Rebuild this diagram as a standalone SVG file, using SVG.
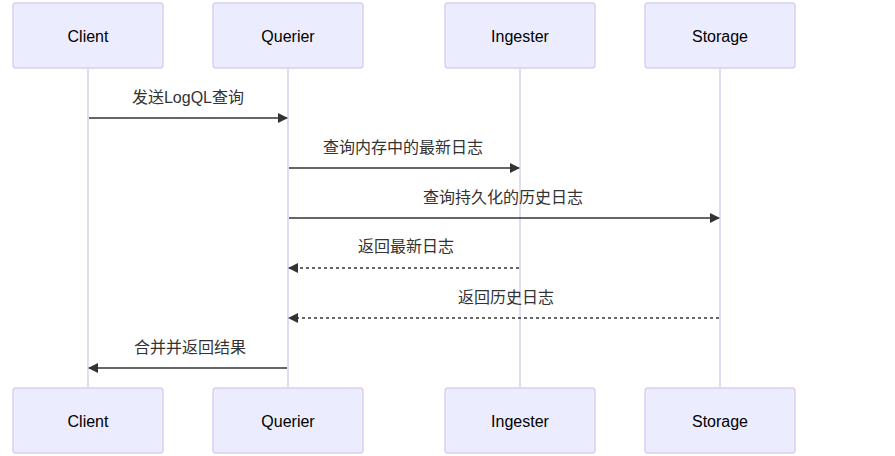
<svg xmlns="http://www.w3.org/2000/svg" width="895" height="456" viewBox="0 0 895 456">
<style>
.actor{fill:#ECECFF;stroke:#DACEF3;stroke-width:1.5}
.atext{font-family:"Liberation Sans","Noto Sans CJK SC",sans-serif;font-size:16px;fill:#000;text-anchor:middle;dominant-baseline:central}
.life{stroke:#DACEF3;stroke-width:1.5}
.msg{stroke:#333;stroke-width:1.5;fill:none}
.dash{stroke-dasharray:3,3}
.mtext{font-family:"Liberation Sans","Noto Sans CJK SC",sans-serif;font-size:16px;fill:#333;text-anchor:middle;dominant-baseline:central}
</style>
<defs>
<marker id="arrow" viewBox="0 0 10 10" refX="9" refY="5" markerWidth="10" markerHeight="10" markerUnits="userSpaceOnUse" orient="auto">
<path d="M0,0 L10,5 L0,10 z" fill="#333"/>
</marker>
</defs>
<g id="lifelines">
<line class="life" x1="88" y1="68" x2="88" y2="388"/>
<line class="life" x1="288" y1="68" x2="288" y2="388"/>
<line class="life" x1="520" y1="68" x2="520" y2="388"/>
<line class="life" x1="720" y1="68" x2="720" y2="388"/>
</g>
<g id="client-top"><rect class="actor" x="13" y="3" width="150" height="65" rx="3"/><text class="atext" x="88" y="36">Client</text></g>
<g id="querier-top"><rect class="actor" x="213" y="3" width="150" height="65" rx="3"/><text class="atext" x="288" y="36">Querier</text></g>
<g id="ingester-top"><rect class="actor" x="445" y="3" width="150" height="65" rx="3"/><text class="atext" x="520" y="36">Ingester</text></g>
<g id="storage-top"><rect class="actor" x="645" y="3" width="150" height="65" rx="3"/><text class="atext" x="720" y="36">Storage</text></g>
<g id="client-bottom"><rect class="actor" x="13" y="388" width="150" height="65" rx="3"/><text class="atext" x="88" y="421">Client</text></g>
<g id="querier-bottom"><rect class="actor" x="213" y="388" width="150" height="65" rx="3"/><text class="atext" x="288" y="421">Querier</text></g>
<g id="ingester-bottom"><rect class="actor" x="445" y="388" width="150" height="65" rx="3"/><text class="atext" x="520" y="421">Ingester</text></g>
<g id="storage-bottom"><rect class="actor" x="645" y="388" width="150" height="65" rx="3"/><text class="atext" x="720" y="421">Storage</text></g>
<g id="connectors">
<line class="msg" x1="89" y1="118" x2="287" y2="118" marker-end="url(#arrow)"/>
<text class="mtext" x="188" y="97">发送LogQL查询</text>
<line class="msg" x1="289" y1="168" x2="519" y2="168" marker-end="url(#arrow)"/>
<text class="mtext" x="403" y="147">查询内存中的最新日志</text>
<line class="msg" x1="289" y1="218" x2="719" y2="218" marker-end="url(#arrow)"/>
<text class="mtext" x="503" y="197">查询持久化的历史日志</text>
<line class="msg dash" x1="519" y1="268" x2="289" y2="268" marker-end="url(#arrow)"/>
<text class="mtext" x="406" y="246">返回最新日志</text>
<line class="msg dash" x1="719" y1="318" x2="289" y2="318" marker-end="url(#arrow)"/>
<text class="mtext" x="506" y="297">返回历史日志</text>
<line class="msg" x1="287" y1="368" x2="89" y2="368" marker-end="url(#arrow)"/>
<text class="mtext" x="190" y="347">合并并返回结果</text>
</g>
</svg>
